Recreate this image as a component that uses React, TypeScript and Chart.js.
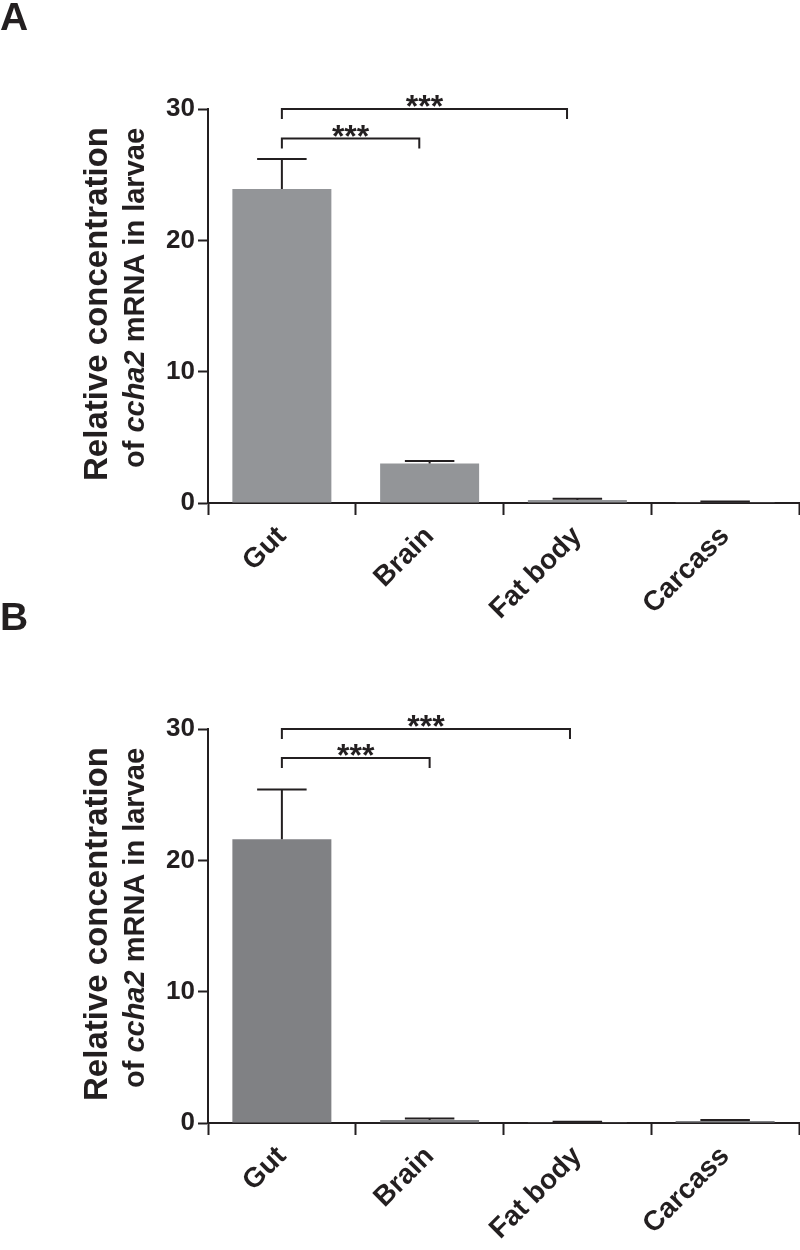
import React, { useEffect, useRef } from 'react';
import { Chart, registerables } from 'chart.js';

Chart.register(...registerables);

// ---------- data ----------
const categories = ['Gut', 'Brain', 'Fat body', 'Carcass'];
const yTicks = [0, 10, 20, 30];

const valuesA = [23.9, 3.0, 0.23, 0.06];
const semA = [2.3, 0.2, 0.1, 0.06];

const valuesB = [21.6, 0.22, 0.05, 0.16];
const semB = [3.8, 0.13, 0.05, 0.07];

// significance brackets: category index from/to, height in data units, label
const bracketsA = [
  { from: 0, to: 0.93, y: 27.75, label: '***' },
  { from: 0, to: 1.93, y: 30, label: '***' },
];
const bracketsB = [
  { from: 0, to: 1.0, y: 27.8, label: '***' },
  { from: 0, to: 1.95, y: 30, label: '***' },
];

const INK = '#231f20';
const FAMILY = '"Liberation Sans", Arial, Helvetica, sans-serif';

type Bracket = { from: number; to: number; y: number; label: string };

function makePlugins(letter: string, letterY: number, values: number[], sems: number[], brackets: Bracket[]) {
  const errorBars = {
    id: 'errorBars',
    afterDatasetsDraw(chart: any) {
      const ctx = chart.ctx;
      const meta = chart.getDatasetMeta(0);
      const ys = chart.scales.y;
      ctx.save();
      ctx.strokeStyle = INK;
      ctx.lineWidth = 2;
      meta.data.forEach((bar: any, i: number) => {
        const x = bar.x;
        const yTop = bar.y;
        const yErr = ys.getPixelForValue(values[i] + sems[i]);
        const half = bar.width / 4;
        ctx.beginPath();
        ctx.moveTo(x, yTop);
        ctx.lineTo(x, yErr);
        ctx.moveTo(x - half, yErr);
        ctx.lineTo(x + half, yErr);
        ctx.stroke();
      });
      ctx.restore();
    },
  };

  const extras = {
    id: 'extras',
    afterDraw(chart: any) {
      const ctx = chart.ctx;
      const xs = chart.scales.x;
      const ys = chart.scales.y;
      const area = chart.chartArea;
      ctx.save();
      // brackets
      ctx.strokeStyle = INK;
      ctx.lineWidth = 2;
      ctx.fillStyle = INK;
      ctx.font = `bold 32px ${FAMILY}`;
      brackets.forEach((b) => {
        const x1 = xs.getPixelForValue(b.from);
        const x2 = xs.getPixelForValue(b.to);
        const y = ys.getPixelForValue(b.y);
        ctx.beginPath();
        ctx.moveTo(x1, y + 10);
        ctx.lineTo(x1, y);
        ctx.lineTo(x2, y);
        ctx.lineTo(x2, y + 10);
        ctx.stroke();
        const m = ctx.measureText(b.label);
        const asc = m.actualBoundingBoxAscent;
        const desc = m.actualBoundingBoxDescent;
        const cy = y - 8;
        ctx.textAlign = 'center';
        ctx.textBaseline = 'alphabetic';
        ctx.fillText(b.label, (x1 + x2) / 2, cy + (asc - desc) / 2);
      });

      // panel letter
      ctx.textAlign = 'left';
      ctx.textBaseline = 'alphabetic';
      ctx.font = `bold 39px ${FAMILY}`;
      ctx.fillText(letter, 0, letterY);

      // y axis title (two lines, rotated)
      const cy = (area.top + area.bottom) / 2 - 4;
      // line 1
      ctx.save();
      ctx.translate(107, cy + 2);
      ctx.rotate(-Math.PI / 2);
      ctx.font = `bold 33px ${FAMILY}`;
      ctx.textAlign = 'center';
      ctx.fillText('Relative concentration', 0, 0);
      ctx.restore();
      // line 2 with italic gene name
      ctx.save();
      ctx.translate(144, cy - 4);
      ctx.rotate(-Math.PI / 2);
      const segs = [
        { t: 'of ', f: `bold 29px ${FAMILY}` },
        { t: 'ccha2', f: `italic bold 29px ${FAMILY}` },
        { t: ' mRNA in larvae', f: `bold 29px ${FAMILY}` },
      ];
      let total = 0;
      const widths = segs.map((s) => {
        ctx.font = s.f;
        const w = ctx.measureText(s.t).width;
        total += w;
        return w;
      });
      let x = -total / 2;
      ctx.textAlign = 'left';
      segs.forEach((s, i) => {
        ctx.font = s.f;
        ctx.fillText(s.t, x, 0);
        x += widths[i];
      });
      ctx.restore();

      ctx.restore();
    },
  };
  return [errorBars, extras];
}

function Panel(props: {
  letter: string;
  letterY: number;
  values: number[];
  sems: number[];
  brackets: Bracket[];
  color: string;
  top: number;
  height: number;
  padTop: number;
  xHeight: number;
}) {
  const ref = useRef<HTMLCanvasElement>(null);
  useEffect(() => {
    const xFont = { family: FAMILY, size: 28, weight: 'bold' as const };
    const yFont = { family: FAMILY, size: 26, weight: 'bold' as const };
    const chart = new Chart(ref.current!, {
      type: 'bar',
      data: {
        labels: categories,
        datasets: [
          {
            data: props.values,
            backgroundColor: props.color,
            borderWidth: 0,
            barPercentage: 0.67,
            categoryPercentage: 1,
          },
        ],
      },
      options: {
        responsive: false,
        animation: false,
        devicePixelRatio: 1,
        layout: { padding: { top: props.padTop, right: 1, left: 0, bottom: 0 } },
        plugins: { legend: { display: false }, tooltip: { enabled: false }, title: { display: false } },
        scales: {
          x: {
            z: 1,
            grid: { drawOnChartArea: false, drawTicks: true, tickLength: 12, tickColor: INK, tickWidth: 2, offset: true },
            border: { color: INK, width: 2 },
            ticks: { font: xFont, color: INK, maxRotation: 45, minRotation: 45, autoSkip: false, padding: 5 },
            afterFit: (s: any) => {
              s.height = props.xHeight;
            },
          },
          y: {
            z: 1,
            min: 0,
            max: 30,
            grid: { drawOnChartArea: false, drawTicks: true, tickLength: 10, tickColor: INK, tickWidth: 2 },
            border: { color: INK, width: 2 },
            ticks: { font: yFont, color: INK, padding: 3 },
            afterBuildTicks: (s: any) => {
              s.ticks = yTicks.map((v) => ({ value: v }));
            },
            afterFit: (s: any) => {
              s.width = 208;
            },
          },
        },
      } as any,
      plugins: makePlugins(props.letter, props.letterY, props.values, props.sems, props.brackets) as any,
    });
    return () => chart.destroy();
  }, []);
  return (
    <canvas
      ref={ref}
      width={800}
      height={props.height}
      style={{ position: 'absolute', left: 0, top: props.top, width: 800, height: props.height, display: 'block' }}
    />
  );
}

export default function App() {
  return (
    <div style={{ position: 'absolute', left: 0, top: 0, width: 800, height: 1250, background: '#ffffff' }}>
      <Panel
        letter="A"
        letterY={30}
        values={valuesA}
        sems={semA}
        brackets={bracketsA}
        color="#939598"
        top={0}
        height={620}
        padTop={109}
        xHeight={117}
      />
      <Panel
        letter="B"
        letterY={50}
        values={valuesB}
        sems={semB}
        brackets={bracketsB}
        color="#808184"
        top={580}
        height={670}
        padTop={149}
        xHeight={127}
      />
    </div>
  );
}
